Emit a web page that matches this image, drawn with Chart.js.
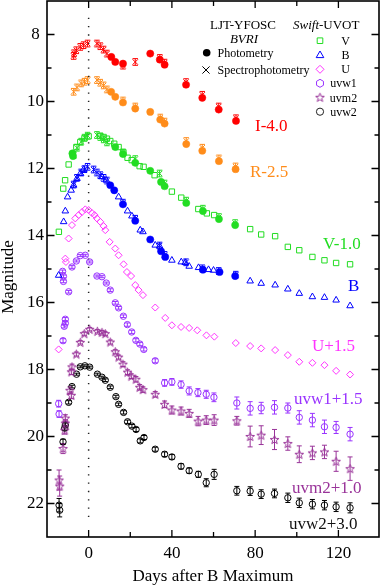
<!DOCTYPE html>
<html><head><meta charset="utf-8">
<script src="https://cdn.jsdelivr.net/npm/chart.js@4.4.1/dist/chart.umd.min.js"></script>
<style>html,body{margin:0;padding:0;background:#fff;}canvas{display:block;}</style>
</head><body>
<canvas id="c" width="382" height="588"></canvas>
<script>
// ---------- tick values ----------
const xTickLabels = [0, 40, 80, 120];
const xTickMarks = [0, 20, 40, 60, 80, 100, 120];
const yTickLabels = [8, 10, 12, 14, 16, 18, 20, 22];
const yTickMarks = [8, 9, 10, 11, 12, 13, 14, 15, 16, 17, 18, 19, 20, 21, 22];

// ---------- B maximum reference line ----------
const maxLineDay = [0, 0];
const maxLineMag = [7.5, 22.4];

// ---------- LJT-YFOSC (plotted, offsets applied) ----------
const iPhotDay = [10.9, 12.8, 16.5, 29.6, 34.2, 36.5, 46.8, 54.6, 62.5, 70.8];
const iPhotMag = [8.67, 8.82, 8.87, 8.57, 8.75, 8.90, 9.50, 9.89, 10.24, 10.58];
const iSpecDay = [-7.2, -7.0, -5.9, -4.0, -2.4, -0.5, 4.0, 5.6, 7.2, 8.8, 16.5, 22.4, 34.2, 36.5, 46.8, 54.6, 62.5, 70.8];
const iSpecMag = [8.64, 8.56, 8.47, 8.37, 8.32, 8.27, 8.27, 8.35, 8.45, 8.57, 8.93, 8.82, 8.70, 8.84, 9.42, 9.80, 10.15, 10.50];

const rPhotDay = [10.8, 12.8, 16.5, 22.4, 29.6, 34.4, 36.5, 46.9, 54.6, 62.6, 70.6];
const rPhotMag = [9.71, 9.86, 10.03, 10.21, 10.31, 10.54, 10.66, 11.27, 11.47, 11.78, 12.02];
const rSpecDay = [-7.2, -5.6, -3.6, -2.0, -0.5, 4.0, 5.6, 7.2, 8.8, 16.5, 22.4, 34.4, 36.5, 46.9, 54.6, 62.6, 70.6];
const rSpecMag = [9.71, 9.58, 9.46, 9.41, 9.36, 9.36, 9.44, 9.52, 9.64, 9.97, 10.15, 10.48, 10.60, 11.18, 11.38, 11.70, 11.94];

const vPhotDay = [-7.8, -7.5, 12.8, 16.5, 22.4, 29.6, 34.8, 36.5, 46.9, 54.9, 62.6, 70.4];
const vPhotMag = [11.55, 11.63, 11.36, 11.57, 11.83, 12.07, 12.40, 12.53, 13.03, 13.27, 13.51, 13.69];
const vSpecDay = [-7.2, -5.6, -3.6, -2.0, -0.5, 4.0, 5.6, 7.2, 8.8, 16.5, 22.4, 34.1, 36.5, 46.9, 54.9, 62.6, 70.4];
const vSpecMag = [11.60, 11.38, 11.20, 11.08, 11.02, 11.00, 11.06, 11.13, 11.22, 11.52, 11.72, 12.15, 12.45, 12.96, 13.20, 13.45, 13.63];

const bPhotDay = [10.4, 12.3, 16.5, 22.4, 29.6, 34.8, 36.8, 54.9, 62.9, 70.4];
const bPhotMag = [12.50, 12.65, 13.07, 13.56, 14.12, 14.47, 14.64, 15.02, 15.09, 15.21];
const bSpecDay = [-7.2, -5.6, -3.6, -2.0, -0.5, 2.4, 4.0, 5.6, 7.2, 8.8, 16.5, 22.4, 34.1, 36.5, 46.8, 54.6, 62.5, 70.7];
const bSpecMag = [12.48, 12.28, 12.12, 12.02, 11.95, 12.03, 12.12, 12.20, 12.28, 12.36, 13.02, 13.50, 14.30, 14.58, 14.80, 14.98, 15.06, 15.17];

// ---------- Swift-UVOT (plotted, offsets applied) ----------
const vSwiftDay = [-14.3, -12.2, -11.3, -9.6, -5.9, -4.0, -2.0, 0.0, 5.6, 7.2, 8.8, 10.4, 12.3, 14.4, 16.7, 18.7, 20.7, 24.5, 26.4, 31.7, 40.0, 44.5, 52.7, 56.8, 60.3, 77.6, 82.9, 89.6, 95.7, 101.2, 107.5, 113.3, 118.9, 125.6];
const vSwiftMag = [13.89, 12.60, 12.35, 11.88, 11.36, 11.21, 11.10, 11.04, 11.02, 11.06, 11.11, 11.18, 11.26, 11.36, 11.52, 11.68, 11.75, 11.93, 11.95, 12.20, 12.69, 12.87, 13.21, 13.34, 13.39, 13.81, 13.97, 14.02, 14.34, 14.44, 14.64, 14.74, 14.82, 14.86];

const bSwiftDay = [-14.4, -12.0, -11.2, -10.1, -8.4, -7.2, -5.6, -4.0, -2.4, 6.4, 8.5, 14.4, 18.7, 20.8, 24.8, 26.1, 32.0, 34.1, 40.0, 44.5, 46.4, 48.3, 52.8, 57.6, 60.0, 77.6, 82.9, 89.6, 95.7, 101.2, 107.5, 113.3, 118.9, 125.6];
const bSwiftMag = [15.19, 13.59, 13.27, 12.85, 12.65, 12.50, 12.30, 12.15, 12.03, 12.25, 12.35, 12.85, 13.27, 13.42, 13.84, 13.89, 14.29, 14.32, 14.74, 14.79, 14.81, 14.92, 14.96, 15.02, 15.04, 15.36, 15.43, 15.48, 15.60, 15.73, 15.83, 15.85, 15.93, 16.10];

const uDay = [-14.4, -11.2, -10.9, -9.6, -8.0, -6.4, -4.8, -3.2, -1.6, 0.0, 1.6, 2.9, 4.0, 5.6, 7.2, 8.0, 10.1, 12.8, 14.4, 16.8, 18.4, 20.4, 22.4, 24.0, 26.1, 32.0, 36.8, 40.0, 44.4, 48.3, 52.2, 56.6, 60.4, 70.7, 77.6, 82.9, 89.6, 95.7, 101.2, 107.5, 113.3, 118.9, 125.6];
const uMag = [17.40, 14.69, 14.79, 14.09, 13.69, 13.49, 13.39, 13.30, 13.22, 13.24, 13.33, 13.39, 13.49, 13.59, 13.72, 13.84, 14.19, 14.39, 14.59, 14.86, 15.09, 15.21, 15.48, 15.63, 15.78, 16.15, 16.46, 16.68, 16.73, 16.76, 16.83, 16.98, 17.02, 17.21, 17.30, 17.37, 17.42, 17.57, 17.77, 17.80, 17.87, 18.04, 18.15];

const w1Day = [-14.4, -14.2, -12.5, -12.1, -12.1, -12.3, -11.7, -11.2, -11.2, -9.6, -8.0, -5.9, -4.0, -1.6, 0.5, 4.0, 6.4, 8.5, 10.4, 12.8, 14.4, 16.7, 18.6, 20.7, 22.7, 24.6, 26.5, 32.0, 36.5, 40.0, 44.4, 48.3, 52.5, 56.5, 60.2, 71.2, 77.6, 82.9, 89.3, 95.7, 101.2, 107.5, 113.3, 118.9, 125.6];
const w1Mag = [19.02, 19.33, 15.07, 15.22, 15.37, 17.14, 16.71, 16.62, 16.50, 15.68, 14.94, 14.76, 14.60, 14.59, 14.79, 15.21, 15.23, 15.42, 15.63, 16.01, 16.16, 16.41, 16.66, 16.88, 17.13, 17.24, 17.40, 17.74, 18.40, 18.37, 18.45, 18.64, 18.69, 18.74, 18.83, 19.00, 19.16, 19.15, 19.13, 19.15, 19.43, 19.51, 19.71, 19.73, 19.93];
const w1Err = [0.10, 0.10, 0.04, 0.04, 0.04, 0.06, 0.05, 0.05, 0.05, 0.04, 0.04, 0.03, 0.03, 0.03, 0.03, 0.03, 0.03, 0.03, 0.04, 0.04, 0.04, 0.04, 0.05, 0.05, 0.05, 0.05, 0.05, 0.06, 0.10, 0.10, 0.11, 0.12, 0.12, 0.12, 0.13, 0.18, 0.20, 0.17, 0.20, 0.15, 0.20, 0.20, 0.20, 0.18, 0.20];

const m2Day = [-14.2, -13.9, -12.3, -11.5, -11.2, -11.2, -9.0, -8.3, -8.0, -8.3, -5.9, -4.0, -2.1, 0.5, 4.2, 6.4, 8.0, 10.4, 12.8, 14.4, 16.5, 18.7, 20.5, 22.7, 24.5, 26.1, 32.0, 36.5, 40.0, 44.4, 48.3, 52.6, 56.5, 60.3, 71.2, 77.6, 82.9, 89.3, 95.7, 101.2, 107.5, 113.3, 118.9, 125.6];
const m2Mag = [21.30, 21.48, 20.36, 19.81, 19.60, 19.45, 18.62, 18.77, 17.92, 18.07, 17.54, 17.19, 16.93, 16.80, 16.86, 16.89, 16.93, 17.18, 17.47, 17.63, 17.84, 18.08, 18.20, 18.29, 18.53, 18.60, 18.74, 19.04, 19.21, 19.24, 19.31, 19.54, 19.51, 19.51, 19.53, 20.00, 19.96, 20.09, 20.21, 20.53, 20.49, 20.46, 20.74, 20.96];
const m2Err = [0.30, 0.30, 0.15, 0.12, 0.10, 0.10, 0.10, 0.10, 0.08, 0.08, 0.06, 0.05, 0.05, 0.05, 0.05, 0.05, 0.05, 0.06, 0.06, 0.06, 0.07, 0.07, 0.07, 0.08, 0.08, 0.08, 0.08, 0.10, 0.12, 0.12, 0.12, 0.14, 0.13, 0.16, 0.13, 0.31, 0.28, 0.30, 0.20, 0.25, 0.20, 0.20, 0.30, 0.35];

const w2Day = [-14.2, -13.9, -12.3, -11.5, -11.2, -9.6, -8.0, -5.8, -4.0, -1.8, 0.5, 4.2, 6.4, 8.0, 10.4, 13.1, 14.4, 16.8, 18.7, 20.8, 22.8, 24.8, 26.6, 32.0, 36.5, 40.0, 44.4, 48.3, 52.7, 56.5, 60.3, 71.2, 77.6, 82.9, 89.3, 95.7, 101.2, 107.5, 113.3, 118.9, 125.6];
const w2Mag = [22.05, 22.20, 20.16, 19.75, 19.66, 18.98, 18.51, 18.14, 17.92, 17.89, 17.93, 18.14, 18.23, 18.32, 18.53, 18.81, 19.04, 19.28, 19.56, 19.69, 19.79, 20.13, 20.03, 20.38, 20.53, 20.61, 20.89, 21.02, 21.13, 21.38, 21.13, 21.62, 21.63, 21.72, 21.70, 21.83, 21.98, 22.02, 22.05, 22.10, 22.13];
const w2Err = [0.20, 0.20, 0.08, 0.06, 0.06, 0.05, 0.04, 0.03, 0.03, 0.03, 0.03, 0.03, 0.03, 0.04, 0.04, 0.04, 0.04, 0.05, 0.05, 0.05, 0.06, 0.06, 0.06, 0.06, 0.07, 0.07, 0.08, 0.08, 0.09, 0.12, 0.15, 0.13, 0.13, 0.13, 0.13, 0.14, 0.14, 0.14, 0.14, 0.14, 0.15];

// ---------- styling ----------
const FAMILY = '"Liberation Serif", "Times New Roman", Times, serif';
const COL = { I: '#ff0000', R: '#ff8c1a', V: '#22dd22', B: '#0000ff', U: '#ff33ff', W1: '#9933ff', M2: '#993399', W2: '#000000' };
const SPEC_ERR = 0.1;

function pts(d, m) { return d.map((v, i) => ({ x: v, y: m[i] })); }

function starCanvas(color) {
  const s = 11, c = document.createElement('canvas');
  c.width = s; c.height = s;
  const g = c.getContext('2d');
  g.strokeStyle = color; g.lineWidth = 1;
  g.beginPath();
  for (let k = 0; k < 10; k++) {
    const R = k % 2 ? 1.9 : 4.6;
    const a = -Math.PI / 2 + k * Math.PI / 5;
    const px = 5.5 + R * Math.cos(a), py = 5.9 + R * Math.sin(a);
    k ? g.lineTo(px, py) : g.moveTo(px, py);
  }
  g.closePath(); g.stroke();
  return c;
}
const STAR = starCanvas(COL.M2);

function filled(label, d, m, color) {
  return { label, data: pts(d, m), pointStyle: 'circle', pointRadius: 3.6, backgroundColor: color, borderColor: color, borderWidth: 0.5, order: 1 };
}
function spec(label, d, m, color) {
  return { label, data: pts(d, m), pointStyle: 'crossRot', pointRadius: 3.8, borderColor: color, backgroundColor: color, borderWidth: 1, order: 0, err: d.map(() => SPEC_ERR), cap: 2.7 };
}
function open(label, d, m, color, style, r, err) {
  return { label, data: pts(d, m), pointStyle: style, pointRadius: r, backgroundColor: 'rgba(0,0,0,0)', borderColor: color, borderWidth: 1, order: 2, err: err, cap: 2.5 };
}

const datasets = [
  { label: 'Bmax', data: pts(maxLineDay, maxLineMag), showLine: true, pointRadius: 0, borderColor: '#222', borderWidth: 1.5, borderDash: [1.3, 7], order: 9 },
  spec('I spec', iSpecDay, iSpecMag, COL.I),
  filled('I phot', iPhotDay, iPhotMag, COL.I),
  spec('R spec', rSpecDay, rSpecMag, COL.R),
  filled('R phot', rPhotDay, rPhotMag, COL.R),
  spec('V spec', vSpecDay, vSpecMag, COL.V),
  filled('V phot', vPhotDay, vPhotMag, COL.V),
  spec('B spec', bSpecDay, bSpecMag, COL.B),
  filled('B phot', bPhotDay, bPhotMag, COL.B),
  open('V', vSwiftDay, vSwiftMag, COL.V, 'rect', 3.8),
  open('B', bSwiftDay, bSwiftMag, COL.B, 'triangle', 3.8),
  open('U', uDay, uMag, COL.U, 'rectRot', 3.5),
  open('uvw1', w1Day, w1Mag, COL.W1, 'circle', 3.2, w1Err),
  open('uvm2', m2Day, m2Mag, COL.M2, STAR, 4.6, m2Err),
  open('uvw2', w2Day, w2Mag, COL.W2, 'circle', 3.2, w2Err)
];

// ---------- plugins ----------
const errorBars = {
  id: 'errorBars',
  beforeDatasetsDraw(chart) {
    const { ctx, chartArea: a, scales: { x, y } } = chart;
    ctx.save();
    ctx.beginPath(); ctx.rect(a.left, a.top, a.right - a.left, a.bottom - a.top); ctx.clip();
    chart.data.datasets.forEach((d) => {
      if (!d.err) return;
      ctx.strokeStyle = d.borderColor; ctx.lineWidth = 1;
      d.data.forEach((p, j) => {
        const e = d.err[j]; if (!e) return;
        const px = x.getPixelForValue(p.x);
        const y1 = y.getPixelForValue(p.y - e), y2 = y.getPixelForValue(p.y + e);
        const c = d.cap || 2.5;
        ctx.beginPath();
        ctx.moveTo(px, y1); ctx.lineTo(px, y2);
        ctx.moveTo(px - c, y1); ctx.lineTo(px + c, y1);
        ctx.moveTo(px - c, y2); ctx.lineTo(px + c, y2);
        ctx.stroke();
      });
    });
    ctx.restore();
  }
};

function fnt(size, italic) { return (italic ? 'italic ' : '') + size + 'px ' + FAMILY; }

function legendMarker(ctx, kind, color, cx, cy) {
  ctx.save();
  ctx.strokeStyle = color; ctx.fillStyle = color; ctx.lineWidth = 1;
  ctx.beginPath();
  if (kind === 'rect') { ctx.rect(cx - 2.8, cy - 2.8, 5.6, 5.6); ctx.stroke(); }
  else if (kind === 'triangle') { ctx.moveTo(cx, cy - 4); ctx.lineTo(cx + 3.8, cy + 2.6); ctx.lineTo(cx - 3.8, cy + 2.6); ctx.closePath(); ctx.stroke(); }
  else if (kind === 'diamond') { ctx.moveTo(cx, cy - 4); ctx.lineTo(cx + 4, cy); ctx.lineTo(cx, cy + 4); ctx.lineTo(cx - 4, cy); ctx.closePath(); ctx.stroke(); }
  else if (kind === 'hex') { for (let k = 0; k < 6; k++) { const a = Math.PI / 6 + k * Math.PI / 3; const px = cx + 4 * Math.cos(a), py = cy + 4 * Math.sin(a); k ? ctx.lineTo(px, py) : ctx.moveTo(px, py); } ctx.closePath(); ctx.stroke(); }
  else if (kind === 'star') { ctx.drawImage(STAR, cx - 5.5, cy - 5.9); }
  else if (kind === 'circle') { ctx.arc(cx, cy, 3.6, 0, Math.PI * 2); ctx.stroke(); }
  else if (kind === 'dot') { ctx.arc(cx, cy, 3.8, 0, Math.PI * 2); ctx.fill(); }
  else if (kind === 'x') { ctx.moveTo(cx - 3.6, cy - 3.6); ctx.lineTo(cx + 3.6, cy + 3.6); ctx.moveTo(cx + 3.6, cy - 3.6); ctx.lineTo(cx - 3.6, cy + 3.6); ctx.stroke(); }
  ctx.restore();
}

const decor = {
  id: 'decor',
  afterDraw(chart) {
    const { ctx, chartArea: a, scales: { x, y } } = chart;
    ctx.save();
    // inward ticks
    ctx.strokeStyle = '#000'; ctx.lineWidth = 1.3;
    ctx.beginPath();
    xTickMarks.forEach(v => {
      const px = x.getPixelForValue(v);
      const len = xTickLabels.includes(v) ? 7 : 5;
      ctx.moveTo(px, a.bottom); ctx.lineTo(px, a.bottom - len);
      ctx.moveTo(px, a.top); ctx.lineTo(px, a.top + len);
    });
    yTickMarks.forEach(v => {
      const py = y.getPixelForValue(v);
      const len = yTickLabels.includes(v) ? 7.5 : 4.5;
      ctx.moveTo(a.left, py); ctx.lineTo(a.left + len, py);
      ctx.moveTo(a.right, py); ctx.lineTo(a.right - len, py);
    });
    ctx.stroke();
    // frame
    ctx.lineWidth = 1.6;
    ctx.strokeRect(a.left, a.top, a.right - a.left, a.bottom - a.top);

    // axis titles
    ctx.fillStyle = '#000';
    ctx.font = fnt(17);
    ctx.textAlign = 'center'; ctx.textBaseline = 'alphabetic';
    ctx.fillText('Days after B Maximum', (a.left + a.right) / 2, 581);
    ctx.save();
    ctx.translate(13, 277); ctx.rotate(-Math.PI / 2);
    ctx.fillText('Magnitude', 0, 0);
    ctx.restore();

    // legend (LJT-YFOSC)
    ctx.textAlign = 'left';
    ctx.font = fnt(13); ctx.fillText('LJT-YFOSC', 210, 29.3);
    ctx.font = fnt(13, true); ctx.textAlign = 'center'; ctx.fillText('BVRI', 244, 43.3);
    ctx.textAlign = 'left';
    legendMarker(ctx, 'dot', '#000', 206.7, 52.7);
    ctx.font = fnt(12); ctx.fillText('Photometry', 217.5, 57.3);
    legendMarker(ctx, 'x', '#000', 206, 70);
    ctx.fillText('Spectrophotometry', 217.5, 74);
    // legend (Swift-UVOT)
    ctx.font = fnt(13, true);
    const sw = ctx.measureText('Swift').width;
    ctx.fillText('Swift', 293, 29.3);
    ctx.font = fnt(13); ctx.fillText('-UVOT', 293 + sw, 29.3);
    const leg = [
      ['rect', COL.V, 'V', 40.7, 45], ['triangle', COL.B, 'B', 55, 59], ['diamond', COL.U, 'U', 69.3, 73.3],
      ['hex', COL.W1, 'uvw1', 83.3, 87.3], ['star', COL.M2, 'uvm2', 97.7, 101.7], ['circle', '#222', 'uvw2', 111.7, 115.7]
    ];
    ctx.font = fnt(12); ctx.textAlign = 'center'; ctx.fillStyle = '#000';
    leg.forEach(([k, c, t, my, by]) => {
      legendMarker(ctx, k, c, 320, my);
      ctx.fillText(t, t.length > 1 ? 343.5 : 345.5, by);
    });

    // band labels
    ctx.font = fnt(17); ctx.textAlign = 'left';
    const labs = [
      ['I-4.0', COL.I, 255, 130.7], ['R-2.5', COL.R, 250, 177.3], ['V-1.0', COL.V, 323, 249],
      ['B', COL.B, 348, 290.7], ['U+1.5', COL.U, 312, 350.7], ['uvw1+1.5', COL.W1, 294, 404],
      ['uvm2+1.0', COL.M2, 292, 492.7], ['uvw2+3.0', '#111', 289, 529]
    ];
    labs.forEach(([t, c, lx, ly]) => { ctx.fillStyle = c; ctx.fillText(t, lx, ly); });
    ctx.restore();
  }
};

function zeroPad(s) { s.paddingTop = 0; s.paddingBottom = 0; s.paddingLeft = 0; s.paddingRight = 0; }

new Chart(document.getElementById('c'), {
  type: 'scatter',
  data: { datasets },
  options: {
    responsive: false, animation: false, devicePixelRatio: 1,
    layout: { autoPadding: false, padding: { top: 1, right: 3, bottom: 0, left: 0 } },
    plugins: { legend: { display: false }, tooltip: { enabled: false } },
    scales: {
      x: {
        type: 'linear', min: -20, max: 139.5,
        afterFit(s) { s.height = 51; zeroPad(s); },
        afterBuildTicks(s) { s.ticks = xTickLabels.map(v => ({ value: v })); },
        ticks: { font: { size: 17, family: FAMILY }, color: '#000', padding: 6, maxRotation: 0, autoSkip: false },
        grid: { display: false, drawTicks: false }, border: { display: false }
      },
      y: {
        type: 'linear', reverse: true, min: 7, max: 23,
        afterFit(s) { s.width = 47; zeroPad(s); },
        afterBuildTicks(s) { s.ticks = yTickLabels.map(v => ({ value: v })); },
        ticks: { font: { size: 17, family: FAMILY }, color: '#000', padding: 3, crossAlign: 'center', autoSkip: false },
        grid: { display: false, drawTicks: false }, border: { display: false }
      }
    }
  },
  plugins: [errorBars, decor]
});
</script>
</body></html>
